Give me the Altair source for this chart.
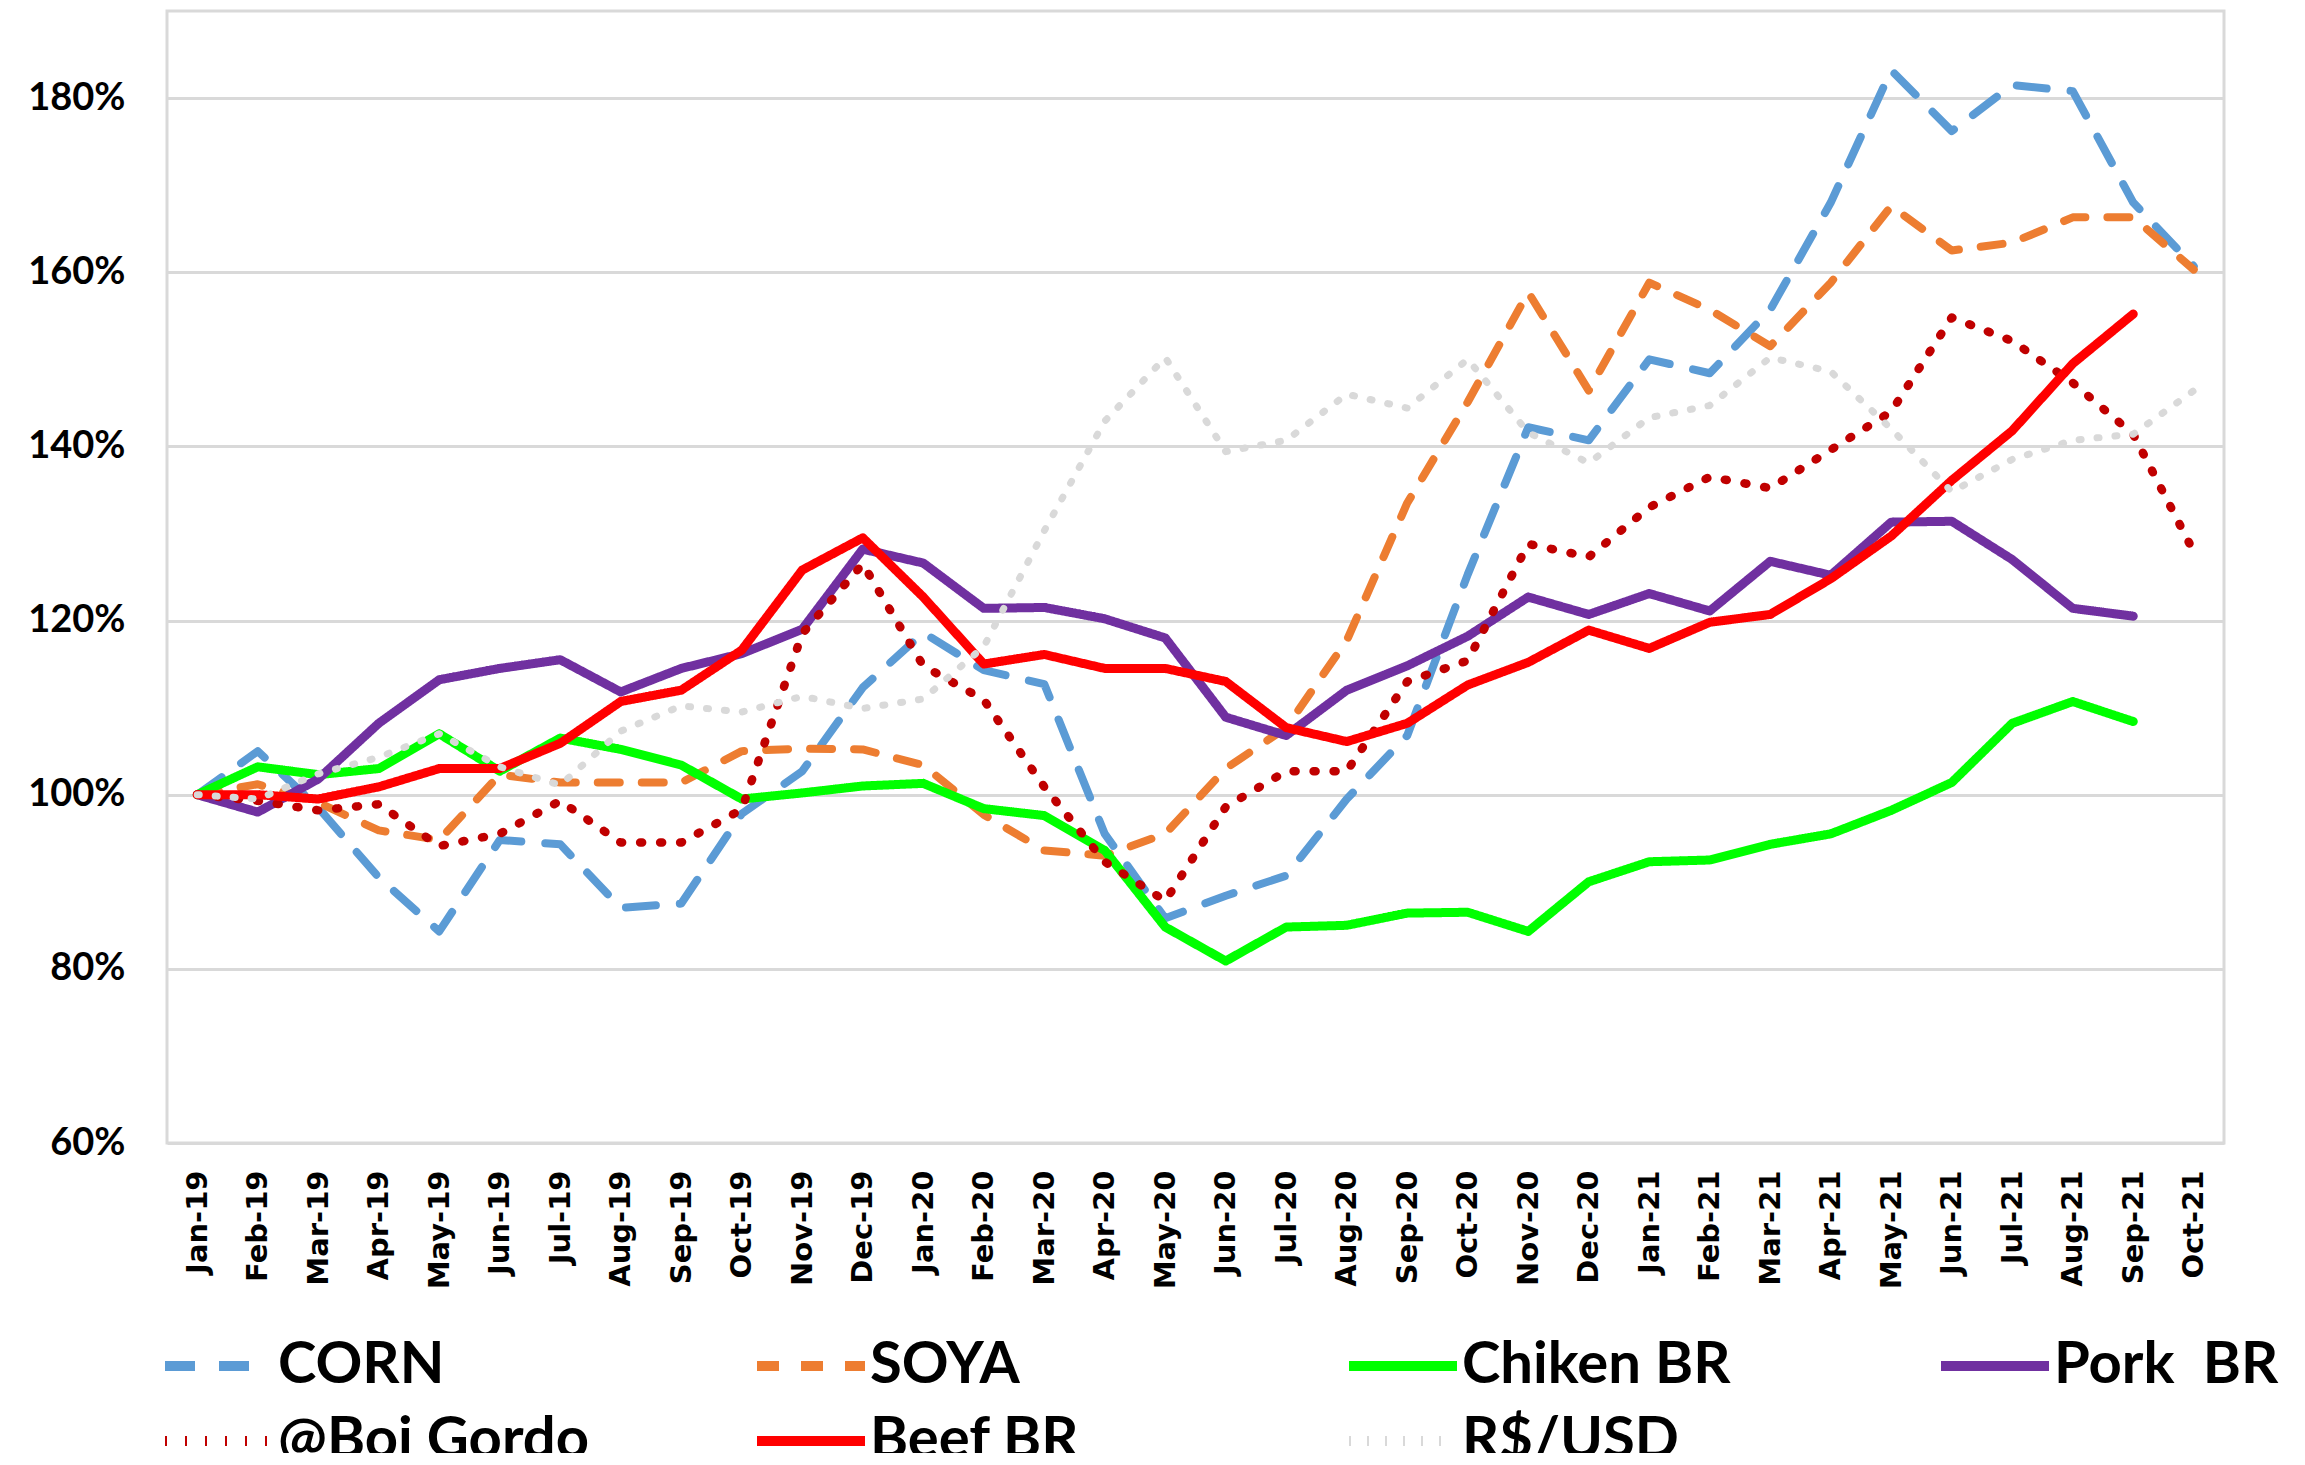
import altair as alt
import pandas as pd

months = ["Jan-19", "Feb-19", "Mar-19", "Apr-19", "May-19", "Jun-19", "Jul-19", "Aug-19",
          "Sep-19", "Oct-19", "Nov-19", "Dec-19", "Jan-20", "Feb-20", "Mar-20", "Apr-20",
          "May-20", "Jun-20", "Jul-20", "Aug-20", "Sep-20", "Oct-20", "Nov-20", "Dec-20",
          "Jan-21", "Feb-21", "Mar-21", "Apr-21", "May-21", "Jun-21", "Jul-21", "Aug-21",
          "Sep-21", "Oct-21"]

series_names = ["CORN", "SOYA", "Chiken BR", "Pork\u00a0 BR", "@Boi Gordo", "Beef BR", "R$/USD"]

corn = [100, 105, 98.5, 90.5, 84.3, 94.8, 94.3, 87, 87.5, 97.8, 102.7, 112.3, 118.6, 114.3,
        112.7, 95.5, 85.8, 88.4, 90.7, 99.5, 106.8, 125.3, 142.2, 140.7, 150, 148.4, 155.7,
        168, 183.2, 176.2, 181.5, 180.8, 168, 160.7]
soya = [100, 101.2, 99.1, 95.9, 94.8, 102.3, 101.4, 101.4, 101.4, 105, 105.3, 105.2, 103.4,
        97.7, 93.6, 93, 95.5, 103, 107.7, 117.7, 133.5, 145.1, 157.7, 146.4, 158.8, 155.7,
        151.5, 158.8, 167.6, 162.5, 163.4, 166.3, 166.3, 160.3]
chiken = [100, 103.2, 102.3, 103, 107, 102.7, 106.5, 105.2, 103.4, 99.5, 100.2, 101, 101.3,
          98.4, 97.6, 93.6, 84.8, 80.9, 84.8, 85, 86.4, 86.5, 84.3, 90, 92.3, 92.5, 94.3,
          95.5, 98.2, 101.4, 108.2, 110.7, 108.4]
pork = [100, 98, 101.8, 108.2, 113.2, 114.5, 115.5, 111.8, 114.5, 116.2, 119, 128.2, 126.6,
        121.4, 121.5, 120.2, 118, 108.9, 106.8, 112, 114.8, 118.2, 122.7, 120.7, 123.1,
        121.1, 126.8, 125.2, 131.3, 131.4, 127, 121.4, 120.5]
boi = [100, 99.3, 98.2, 98.9, 94.1, 95.5, 99.3, 94.5, 94.5, 98.3, 118.5, 126.5, 114.8, 110.9,
       100.9, 92.3, 87.8, 98.6, 102.7, 102.7, 113, 115.4, 128.8, 127.3, 133, 136.5, 135.2,
       139.6, 144, 154.8, 152.1, 147.3, 141.4, 127.9]
beef = [100, 100, 99.5, 100.9, 103, 103, 105.9, 110.7, 112, 116.6, 125.8, 129.5, 122.7, 115,
        116.1, 114.5, 114.5, 113, 107.7, 106.1, 108.2, 112.6, 115.2, 118.9, 116.8, 119.8,
        120.7, 124.8, 129.7, 136.1, 141.8, 149.5, 155.2]
brl_usd = [100, 99.5, 102.4, 104.3, 107, 103.2, 101.1, 107.3, 110.2, 109.5, 111.3, 109.9, 111,
           117, 130.3, 142.9, 150.2, 139.4, 140.7, 146, 144.4, 150, 141.6, 138.1, 143.3,
           144.7, 150.2, 148.6, 142, 134.8, 138.5, 140.7, 141.4, 146.4]

all_values = [corn, soya, chiken, pork, boi, beef, brl_usd]

# styles
colors = ["#5B9BD5", "#ED7D31", "#00FF00", "#7030A0", "#C00000", "#FF0000", "#D9D9D9"]
dashes = [[30, 24], [22, 22], [1, 0], [1, 0], [2, 18], [1, 0], [2, 16]]
widths = [8, 8, 9, 9, 8.5, 9, 7]

rows = []
for name, vals in zip(series_names, all_values):
    for m, v in zip(months, vals):
        rows.append({"month": m, "value": v, "series": name})
df = pd.DataFrame(rows)

color_scale = alt.Scale(domain=series_names, range=colors)
dash_scale = alt.Scale(domain=series_names, range=dashes)

legend = alt.Legend(
    title=None, orient="none", legendX=-7, legendY=1320, columns=4, direction="horizontal",
    columnPadding=162, rowPadding=5, clipHeight=70, gridAlign="all", padding=0,
    symbolType="stroke", symbolSize=11664, symbolStrokeWidth=10,
    labelFont="Lato", labelFontSize=58, labelFontWeight="bold", labelColor="#000000",
    labelLimit=1000, labelOffset=0,
)

xaxis = alt.Axis(title=None, labelAngle=-90, ticks=False, tickSize=0, domain=False, grid=False,
                 labelFont="DejaVu Sans", labelFontSize=29, labelFontWeight="bold",
                 labelColor="#000000", labelPadding=27)
yaxis = alt.Axis(title=None, values=[60, 80, 100, 120, 140, 160, 180],
                 labelExpr="datum.value + '%'", ticks=False, tickSize=0, domain=False,
                 grid=True, labelFont="Lato", labelFontSize=38, labelFontWeight="bold",
                 labelColor="#000000", labelPadding=42)

base = alt.Chart(df)
layers = []
for name, w in zip(series_names, widths):
    layers.append(
        base.transform_filter(alt.datum.series == name)
        .mark_line(strokeWidth=w, strokeCap="round", strokeJoin="round")
        .encode(
            x=alt.X("month:N", sort=months,
                    scale=alt.Scale(type="point", padding=0.5, domain=months), axis=xaxis),
            y=alt.Y("value:Q", scale=alt.Scale(domain=[60, 190], nice=False, zero=False),
                    axis=yaxis),
            color=alt.Color("series:N", scale=color_scale, legend=legend),
            strokeDash=alt.StrokeDash("series:N", scale=dash_scale, legend=legend),
        )
    )

chart = (
    alt.layer(*layers)
    .properties(width=2057, height=1132,
                padding={"left": 159, "top": 3, "right": 73, "bottom": 310},
                autosize=alt.AutoSizeParams(type="none"),
                background="white")
    .configure_view(stroke="#D9D9D9", strokeWidth=3)
    .configure_axis(gridColor="#D9D9D9", gridWidth=3)
)

chart.save("out.html", embed_options={"renderer": "svg", "actions": False})
